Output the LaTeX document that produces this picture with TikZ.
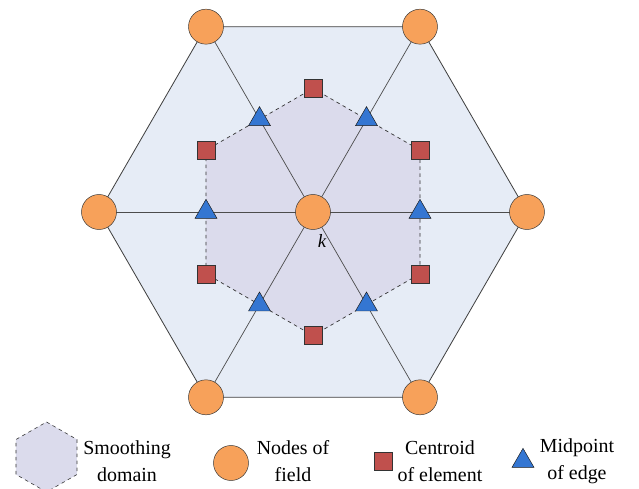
\documentclass[tikz,border=0pt]{standalone}
\usepackage{fontspec}
\setmainfont{Liberation Serif}
\usetikzlibrary{shapes.geometric}
\definecolor{domainfill}{RGB}{219,219,236}
\definecolor{cellfill}{RGB}{230,236,246}
\definecolor{fieldnode}{RGB}{247,161,90}
\definecolor{centroidred}{RGB}{192,80,77}
\definecolor{edgeblue}{RGB}{52,118,210}
\tikzset{
    fieldpt/.style={circle, draw=black!80, fill=fieldnode, minimum size=1.05cm, inner sep=0pt},
    centroidpt/.style={rectangle, draw=black!80, fill=centroidred, minimum size=0.54cm, inner sep=0pt},
    midpt/.style={regular polygon, regular polygon sides=3, draw=black!90, fill=edgeblue, minimum size=0.76cm, inner sep=0pt},
    legendtext/.style={align=center, font=\fontsize{17}{23}\selectfont}
}
\begin{document}
\begin{tikzpicture}[x=0.03cm, y=0.03cm]
        \useasboundingbox (-313,-277) rectangle (326,212);
        % points of the patch
        \coordinate (k) at (0,0);
        \foreach \i in {0,...,5}
        {
            \coordinate (O\i) at (\i*60:214);
            \coordinate (M\i) at (\i*60:107);
            \coordinate (G\i) at (\i*60+30:123.6);
        }
        % cells
        \path[draw=black!75, fill=cellfill, line width=0.7pt](O0)--(O1)--(O2)--(O3)--(O4)--(O5)--cycle;
        % smoothing domain
        \path[draw=black!80, dashed, fill=domainfill, line width=0.6pt](M0)--(G0)--(M1)--(G1)--(M2)--(G2)--(M3)--(G3)--(M4)--(G4)--(M5)--(G5)--cycle;
        \foreach \i in {0,...,5}
        {
            \path[draw=black!70, line width=0.6pt](k)to(O\i);
        }
        % markers
        \foreach \i in {0,...,5}
        {
            \node[fieldpt] (n\i) at (O\i) {};
            \node[midpt] (m\i) at (M\i) {};
            \node[centroidpt] (g\i) at (G\i) {};
        }
        \node[fieldpt] (nk) at (k) {};
        \node[font=\itshape\fontsize{16}{16}\selectfont] (klab) at (9,-29) {k};
        % legend
        \path[draw=black!80, dashed, fill=domainfill, line width=0.5pt](-266.5,-210)--(-236,-227.5)--(-236,-262.5)--(-266.5,-280)--(-297,-262.5)--(-297,-227.5)--cycle;
        \node[legendtext] (t1) at (-186,-249) {Smoothing\\domain};
        \node[fieldpt] (l2) at (-82,-251) {};
        \node[legendtext] (t2) at (-20,-249) {Nodes of\\field};
        \node[centroidpt] (l3) at (70,-249) {};
        \node[legendtext] (t3) at (127,-249) {Centroid\\of element};
        \node[midpt] (l4) at (210,-249) {};
        \node[legendtext] (t4) at (264,-249) {Midpoint\\of edge};
\end{tikzpicture}
\end{document}
